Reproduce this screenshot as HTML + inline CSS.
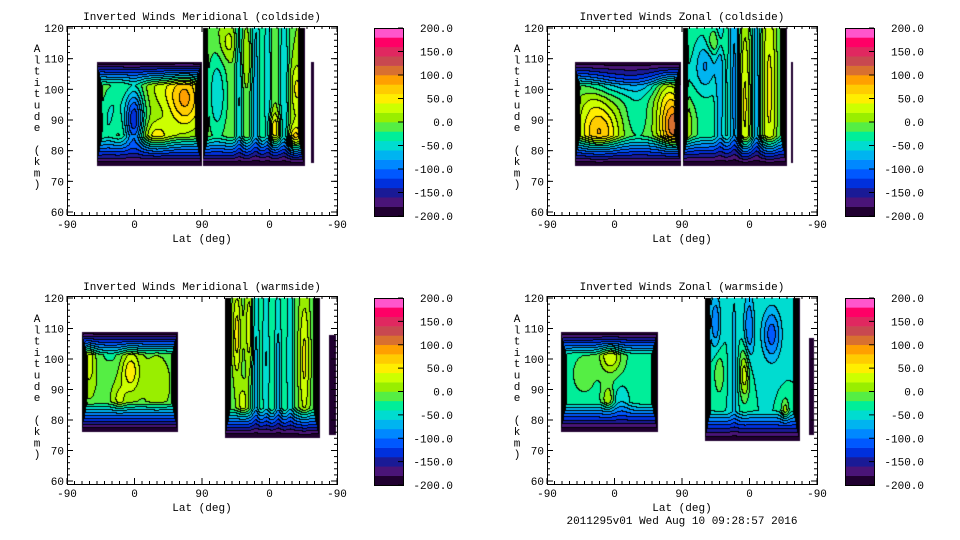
<!DOCTYPE html>
<html><head><meta charset="utf-8"><style>
html,body{margin:0;padding:0;background:#fff;width:960px;height:540px;overflow:hidden}
#wrap{position:relative;width:960px;height:540px}
canvas{position:absolute}
svg{position:absolute;left:0;top:0}
text{font-family:"Liberation Mono",monospace;font-size:11px;fill:#000}
</style></head><body>
<div id="wrap">
<canvas id="c0"></canvas>
<canvas id="c1"></canvas>
<canvas id="c2"></canvas>
<canvas id="c3"></canvas>
<svg id="s" width="960" height="540"></svg>
</div>
<script>
// ---- data ----
const panelTitles = ["Inverted Winds Meridional (coldside)","Inverted Winds Zonal (coldside)","Inverted Winds Meridional (warmside)","Inverted Winds Zonal (warmside)"];
const xTickLabels = ["-90","0","90","0","-90"];
const yTickValues = [60,70,80,90,100,110,120];
const cbarLabels = ["200.0","150.0","100.0","50.0","0.0","-50.0","-100.0","-150.0","-200.0"];
const cbarValues = [200,150,100,50,0,-50,-100,-150,-200];
// regions: [t0,t1,altLow,altHigh,baseValue]  (t = track degrees 0..360)
const regions0 = [[40,180,75,109,-5],[181,317,75,120,0],[326,329,76,109,-200]];
const regions1 = [[37,179,75,109,-10],[181,320,75,120,-30],[325,328,76,109,-200]];
const regions2 = [[20,148,76,109,-5],[211,337,74,120,-10],[350,358,75,108,-170]];
const regions3 = [[19,148,76,109,-25],[211,337,73,120,-40],[349,356,75,107,-170]];
// blobs: [t, alt, amplitude, sigmaT, sigmaAlt]
const blobs0 = [[90,90,-130,9,7],[158,97,90,16,7],[120,84,55,14,4],[65,96,-25,10,5],[125,100,25,15,5],[55,88,-30,8,6],
 [200,98,-60,10,10],[230,98,-60,4,30],[252,98,-70,5,40],[268,98,-60,4,40],[290,98,-60,5,40],[277,87,60,6,4],[305,82,90,7,4],[307,100,45,6,6],[215,115,30,8,4],[240,110,25,6,6]];
const blobs1 = [[110,104,-80,40,4],[70,86,90,18,6],[170,88,125,14,6],[160,100,45,12,5],[120,92,-25,12,6],[60,96,20,15,4],
 [264,95,75,6,25],[297,100,75,8,30],[231,98,-40,4,40],[251,98,-60,5,40],[280,98,-50,4,40],[212,108,-50,10,6],[225,115,45,8,3]];
const blobs2 = [[85,96,60,9,5],[30,99,40,6,6],[70,87,30,6,3],[120,92,25,10,5],[60,102,-20,15,4],
 [227,108,60,4,10],[244,110,50,4,10],[317,100,55,5,15],[252,95,-60,4,30],[266,100,-50,4,30],[282,90,-60,4,30],[298,100,-50,4,30],[235,86,40,5,4]];
const blobs3 = [[85,101,65,10,4],[82,87,45,5,3],[50,95,10,12,5],[100,86,-35,8,4],
 [264,95,75,5,6],[230,95,40,5,5],[225,112,-60,5,6],[270,110,-60,5,8],[300,108,-70,9,6],[318,83,50,4,3],[250,98,-25,4,30]];
const bandColors = ["#200030","#4a1478","#1a1a96","#0030dd","#0058ff","#0088ff","#00b4f0","#00dcd0","#00ee99","#55ee44","#99ee00","#ccff00","#ffee00","#ffcc00","#ffa000","#d87030","#c84850","#e02860","#ff0066","#ff55cc"];

const panels = [
 {x0:67,x1:337,y0:26,y1:215,cx:374,regions:regions0,blobs:blobs0},
 {x0:547,x1:817,y0:26,y1:215,cx:845,regions:regions1,blobs:blobs1},
 {x0:67,x1:337,y0:296,y1:484,cx:374,regions:regions2,blobs:blobs2},
 {x0:547,x1:817,y0:296,y1:484,cx:845,regions:regions3,blobs:blobs3}
];
const NS="http://www.w3.org/2000/svg";
const svg=document.getElementById('s');
function el(tag,attrs,txt){const e=document.createElementNS(NS,tag);for(const k in attrs)e.setAttribute(k,attrs[k]);if(txt!==undefined)e.textContent=txt;svg.appendChild(e);return e;}

panels.forEach((p,pi)=>{
 const W=p.x1-p.x0,H=p.y1-p.y0;
 const xOf=t=>p.x0+t*W/360;
 const yOf=a=>(p.y0+2)+(120-a)*((H-5)/60);
 const tOf=x=>(x-p.x0)*360/W;
 const aOf=y=>120-(y-(p.y0+2))*60/(H-5);
 const cv=document.getElementById('c'+pi);
 cv.width=W;cv.height=H;cv.style.left=p.x0+'px';cv.style.top=p.y0+'px';
 const ctx=cv.getContext('2d');
 const band=new Int16Array(W*H).fill(-1);
 for(let py=0;py<H;py++)for(let px=0;px<W;px++){
  const t=tOf(p.x0+px+0.5),a=aOf(p.y0+py+0.5);
  for(const r of p.regions){
   if(t>=r[0]&&t<=r[1]&&a>=r[2]&&a<=Math.min(r[3],120)){
    let v=r[4];
    for(const b of p.blobs){const dt=(t-b[0])/b[3],da=(a-b[1])/b[4];v+=b[2]*Math.exp(-0.5*(dt*dt+da*da));}
    const dx=Math.min(xOf(t)-xOf(r[0]),xOf(r[1])-xOf(t));
    const dyB=yOf(r[2])-yOf(a);
    const dyT=r[3]>=120?99:yOf(a)-yOf(r[3]);
    let f=Math.min(1,dx/6,dyB/30,dyT/24);
    f=Math.max(0,f);
    v=-200+(v+200)*Math.pow(f,1.1);
    let bi=Math.floor((v+200)/20);bi=Math.max(0,Math.min(19,bi));
    band[py*W+px]=bi;break;
   }
  }
 }
 const img=ctx.createImageData(W,H);
 const rgb=bandColors.map(c=>[parseInt(c.slice(1,3),16),parseInt(c.slice(3,5),16),parseInt(c.slice(5,7),16)]);
 for(let py=0;py<H;py++)for(let px=0;px<W;px++){
  const i=py*W+px,b=band[i];if(b<0)continue;
  let col=rgb[b];
  const r=px+1<W?band[i+1]:b,dn=py+1<H?band[i+W]:b;
  if((r>=0&&r!==b)||(dn>=0&&dn!==b))col=[0,0,0];
  img.data[i*4]=col[0];img.data[i*4+1]=col[1];img.data[i*4+2]=col[2];img.data[i*4+3]=255;
 }
 ctx.putImageData(img,0,0);

 const fr=el('rect',{x:p.x0+0.5,y:p.y0+0.5,width:W,height:H,fill:'none',stroke:'#000','stroke-width':1});
 
 xTickLabels.forEach((lb,i)=>{
  const x=p.x0+i*W/4;
  el('line',{x1:x,y1:p.y1,x2:x,y2:p.y1-6,stroke:'#000'});
  el('line',{x1:x,y1:p.y0,x2:x,y2:p.y0+6,stroke:'#000'});
  const tx=el('text',{x:x,y:p.y1+13,'text-anchor':'middle'},lb);
  
 });
 for(let k=0;k<=36;k++){const x=p.x0+k*W/36;el('line',{x1:x,y1:p.y1,x2:x,y2:p.y1-3,stroke:'#000'});el('line',{x1:x,y1:p.y0,x2:x,y2:p.y0+3,stroke:'#000'});}
 yTickValues.forEach(v=>{
  const y=yOf(v);
  el('line',{x1:p.x0,y1:y,x2:p.x0+6,y2:y,stroke:'#000'});
  el('line',{x1:p.x1,y1:y,x2:p.x1-6,y2:y,stroke:'#000'});
  const tx=el('text',{x:p.x0-3,y:y+4,'text-anchor':'end'},String(v));
  
 });
 for(let v=60;v<=120;v+=2){const y=yOf(v);el('line',{x1:p.x0,y1:y,x2:p.x0+3,y2:y,stroke:'#000'});el('line',{x1:p.x1,y1:y,x2:p.x1-3,y2:y,stroke:'#000'});}
 const tt=el('text',{x:p.x0+W/2,y:p.y0-6,'text-anchor':'middle'},panelTitles[pi]);
 
 const xt=el('text',{x:p.x0+W/2,y:p.y1+27,'text-anchor':'middle'},'Lat (deg)');
 
 const yt=el('text',{x:p.x0-30,y:p.y0+26,'text-anchor':'middle'});
 
 "Altitude (km)".split('').forEach((ch,i)=>{const ts=document.createElementNS(NS,'tspan');ts.setAttribute('x',p.x0-30);ts.setAttribute('y',p.y0+26+i*11.3);ts.textContent=ch===' '?'\u00a0':ch;yt.appendChild(ts);});
 const cy0=p.y0+2,cy1=p.y1+1,ch=(cy1-cy0)/20;
 bandColors.forEach((c,i)=>{
  const r=el('rect',{x:p.cx,y:cy1-(i+1)*ch,width:29,height:ch+0.3,fill:c});
  
 });
 el('rect',{x:p.cx+0.5,y:cy0+0.5,width:29,height:cy1-cy0,fill:'none',stroke:'#000'});
 cbarValues.forEach((v,i)=>{
  const y=cy1-(v+200)/400*(cy1-cy0);
  el('line',{x1:p.cx+24,y1:y,x2:p.cx+29,y2:y,stroke:'#000'});
  const tx=el('text',{x:p.cx+79,y:y+4,'text-anchor':'end'},cbarLabels[i]);
  
 });
});
const ft=el('text',{x:682,y:524,'text-anchor':'middle'},'2011295v01 Wed Aug 10 09:28:57 2016');

</script>
</body></html>
